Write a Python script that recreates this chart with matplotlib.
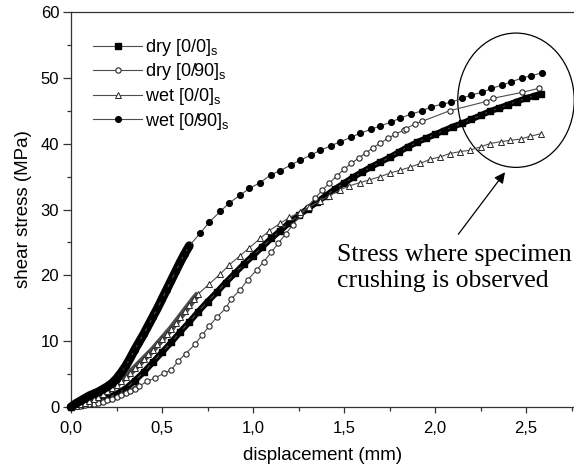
import matplotlib
matplotlib.use("Agg")
import matplotlib.pyplot as plt
from matplotlib.patches import Ellipse
from matplotlib.ticker import MultipleLocator

# dry [0/0]s - filled squares (dense all the way)
dry00_x = [0.00, 0.05, 0.10, 0.15, 0.20, 0.25, 0.30, 0.35, 0.40, 0.45,
           0.50, 0.55, 0.60, 0.65, 0.70, 0.75, 0.80, 0.85, 0.90, 0.95,
           1.00, 1.05, 1.10, 1.15, 1.20, 1.25, 1.30, 1.35, 1.40, 1.45,
           1.50, 1.55, 1.60, 1.65, 1.70, 1.75, 1.80, 1.85, 1.90, 1.95,
           2.00, 2.05, 2.10, 2.15, 2.20, 2.25, 2.30, 2.35, 2.40, 2.45,
           2.50, 2.55, 2.58]
dry00_y = [0.0, 0.3, 0.6, 0.9, 1.4, 2.0, 2.8, 4.0, 5.3, 6.8,
           8.3, 9.8, 11.4, 12.9, 14.5, 16.0, 17.4, 18.9, 20.3, 21.7,
           23.0, 24.3, 25.6, 26.8, 28.0, 29.1, 30.1, 31.1, 32.1, 33.1,
           34.0, 34.9, 35.7, 36.5, 37.2, 37.9, 38.7, 39.5, 40.2, 40.8,
           41.4, 42.0, 42.6, 43.1, 43.7, 44.3, 44.9, 45.4, 45.9, 46.4,
           46.9, 47.3, 47.6]

# dry [0/90]s - open circles (first 16 points densely sampled)
dry090_x = [0.000, 0.025, 0.050, 0.075, 0.100, 0.125, 0.150, 0.175, 0.200, 0.225,
            0.250, 0.275, 0.300, 0.325, 0.350, 0.375,
            0.42, 0.46, 0.51, 0.55, 0.59, 0.63, 0.68, 0.72, 0.76, 0.80,
            0.85, 0.88, 0.93, 0.97, 1.02, 1.06, 1.10, 1.14, 1.18, 1.22,
            1.26, 1.30, 1.34, 1.38, 1.42, 1.46, 1.50, 1.54, 1.58, 1.62,
            1.66, 1.70, 1.74, 1.78, 1.83, 1.84, 1.89, 1.93, 2.08, 2.28,
            2.32, 2.48, 2.57]
dry090_y = [0.0, 0.1, 0.2, 0.3, 0.4, 0.5, 0.6, 0.8, 1.0, 1.2,
            1.5, 1.8, 2.1, 2.4, 2.8, 3.2,
            3.9, 4.4, 5.1, 5.6, 7.0, 8.1, 9.5, 10.9, 12.3, 13.6,
            15.0, 16.4, 17.8, 19.3, 20.8, 22.1, 23.5, 24.9, 26.3, 27.7,
            29.1, 30.4, 31.7, 32.9, 34.0, 35.1, 36.1, 37.0, 37.8, 38.6,
            39.4, 40.1, 40.8, 41.4, 42.1, 42.3, 43.0, 43.4, 45.0, 46.4,
            46.9, 47.8, 48.4]

# wet [0/0]s - open triangles (first 29 points densely sampled)
wet00_x = [0.000, 0.025, 0.050, 0.075, 0.100, 0.125, 0.150, 0.175, 0.200, 0.225,
           0.250, 0.275, 0.300, 0.325, 0.350, 0.375, 0.400, 0.425, 0.450, 0.475,
           0.500, 0.525, 0.550, 0.575, 0.600, 0.625, 0.650, 0.675, 0.700,
           0.76, 0.82, 0.87, 0.93, 0.98, 1.04, 1.09, 1.15, 1.20, 1.26,
           1.31, 1.37, 1.42, 1.48, 1.53, 1.59, 1.64, 1.70, 1.75, 1.81,
           1.86, 1.92, 1.97, 2.03, 2.08, 2.14, 2.19, 2.25, 2.30, 2.36,
           2.41, 2.47, 2.52, 2.58]
wet00_y = [0.0, 0.2, 0.4, 0.6, 0.9, 1.2, 1.5, 1.9, 2.4, 2.9,
           3.4, 4.0, 4.6, 5.2, 5.9, 6.6, 7.3, 8.0, 8.7, 9.5,
           10.3, 11.1, 11.9, 12.8, 13.7, 14.6, 15.5, 16.4, 17.2,
           18.7, 20.2, 21.6, 23.0, 24.2, 25.6, 26.8, 27.9, 28.8, 29.6,
           30.4, 31.3, 32.1, 33.0, 33.6, 34.1, 34.5, 35.0, 35.5, 36.0,
           36.4, 37.0, 37.6, 38.0, 38.5, 38.8, 39.0, 39.5, 40.0, 40.3,
           40.5, 40.7, 41.1, 41.5]

# wet [0/90]s - filled circles (first 27 points densely sampled)
wet090_x = [0.000, 0.025, 0.050, 0.075, 0.100, 0.125, 0.150, 0.175, 0.200, 0.225,
            0.250, 0.275, 0.300, 0.325, 0.350, 0.375, 0.400, 0.425, 0.450, 0.475,
            0.500, 0.525, 0.550, 0.575, 0.600, 0.625, 0.650,
            0.71, 0.76, 0.82, 0.87, 0.93, 0.98, 1.04, 1.10, 1.15, 1.21,
            1.26, 1.32, 1.37, 1.43, 1.48, 1.54, 1.59, 1.65, 1.70, 1.76,
            1.81, 1.87, 1.93, 1.98, 2.04, 2.09, 2.15, 2.20, 2.26, 2.31,
            2.37, 2.42, 2.48, 2.53, 2.59]
wet090_y = [0.0, 0.5, 0.9, 1.3, 1.7, 2.0, 2.3, 2.7, 3.1, 3.6,
            4.3, 5.2, 6.2, 7.4, 8.7, 9.9, 11.1, 12.4, 13.7, 15.0,
            16.4, 17.8, 19.2, 20.6, 22.0, 23.3, 24.5,
            26.4, 28.1, 29.7, 31.0, 32.2, 33.2, 34.1, 35.3, 35.9, 36.8,
            37.5, 38.3, 39.0, 39.7, 40.3, 41.0, 41.6, 42.2, 42.7, 43.3,
            43.9, 44.5, 45.0, 45.6, 46.0, 46.3, 46.9, 47.4, 47.8, 48.4,
            48.9, 49.4, 50.0, 50.3, 50.8]

xticks = [0.0, 0.5, 1.0, 1.5, 2.0, 2.5]
xtick_labels = ["0,0", "0,5", "1,0", "1,5", "2,0", "2,5"]
yticks = [0, 10, 20, 30, 40, 50, 60]

plt.rcParams["font.family"] = ["Liberation Sans", "DejaVu Sans"]
plt.rcParams["mathtext.default"] = "regular"

fig = plt.figure(figsize=(5.74, 4.72), dpi=100)
ax = fig.add_axes([71 / 574, 65 / 472, 503 / 574, 395 / 472])

line_col = "0.3"

# where the recorder sampled densely the markers merge into a band
ax.plot(dry00_x, dry00_y, color="black", lw=4.4, solid_capstyle="butt", zorder=2, clip_on=False)
ax.plot(dry090_x[:16], dry090_y[:16], color="0.35", lw=3.8, solid_capstyle="butt", zorder=2, clip_on=False)
ax.plot(wet00_x[:29], wet00_y[:29], color="0.3", lw=4.8, solid_capstyle="butt", zorder=2, clip_on=False)
ax.plot(wet090_x[:27], wet090_y[:27], color="black", lw=6.3, solid_capstyle="round", zorder=4, clip_on=False)

ax.plot(dry00_x, dry00_y, color=line_col, lw=0.8, marker="s", ms=3.8,
        mfc="black", mec="black", label="dry [0/0]$_s$", zorder=3, clip_on=False)
ax.plot(dry090_x, dry090_y, color=line_col, lw=0.8, marker="o", ms=3.8,
        mfc="white", mec="0.15", mew=0.8, label="dry [0/90]$_s$", zorder=3, clip_on=False)
ax.plot(wet00_x, wet00_y, color=line_col, lw=0.8, marker="^", ms=4.0,
        mfc="white", mec="0.15", mew=0.7, label="wet [0/0]$_s$", zorder=3, clip_on=False)
ax.plot(wet090_x, wet090_y, color=line_col, lw=0.8, marker="o", ms=4.1,
        mfc="black", mec="black", label="wet [0/90]$_s$", zorder=4, clip_on=False)

ax.set_xlim(0, 503 / 182)
ax.set_ylim(0, 60)
ax.set_xticks(xticks)
ax.set_xticklabels(xtick_labels)
ax.set_yticks(yticks)
ax.xaxis.set_minor_locator(MultipleLocator(0.25))
ax.yaxis.set_minor_locator(MultipleLocator(5))
ax.tick_params(which="major", direction="out", width=0.9, labelsize=12, color="0.2")
ax.tick_params(axis="x", which="major", length=4, pad=6)
ax.tick_params(axis="y", which="major", length=5.5, pad=3)
ax.tick_params(which="minor", direction="out", length=2.8, width=0.9, color="0.2")
ax.spines["right"].set_visible(False)
for s in ["left", "bottom", "top"]:
    ax.spines[s].set_linewidth(0.9)
    ax.spines[s].set_color("0.2")

ax.set_xlabel("displacement (mm)", fontsize=13.5, labelpad=8)
ax.set_ylabel("shear stress (MPa)", fontsize=13.5, labelpad=6)

ax.legend(loc="upper left", bbox_to_anchor=(0.044, 0.937), frameon=False,
          fontsize=13, handlelength=2.7, handletextpad=0.2, labelspacing=0.2,
          borderpad=0, borderaxespad=0)

# crushing region
ax.add_patch(Ellipse((2.445, 46.6), width=0.64, height=20.4, fill=False,
                     lw=0.9, color="black", clip_on=False))
ax.annotate("", xy=(2.394, 36.0), xytext=(2.119, 25.9),
            arrowprops=dict(arrowstyle="-|>", color="black", lw=0.9, mutation_scale=16))
ax.text(1.46, 21.1, "Stress where specimen\ncrushing is observed",
        family="Liberation Serif", fontsize=18.5, ha="left", va="center")

fig.savefig("out.png", dpi=100)
